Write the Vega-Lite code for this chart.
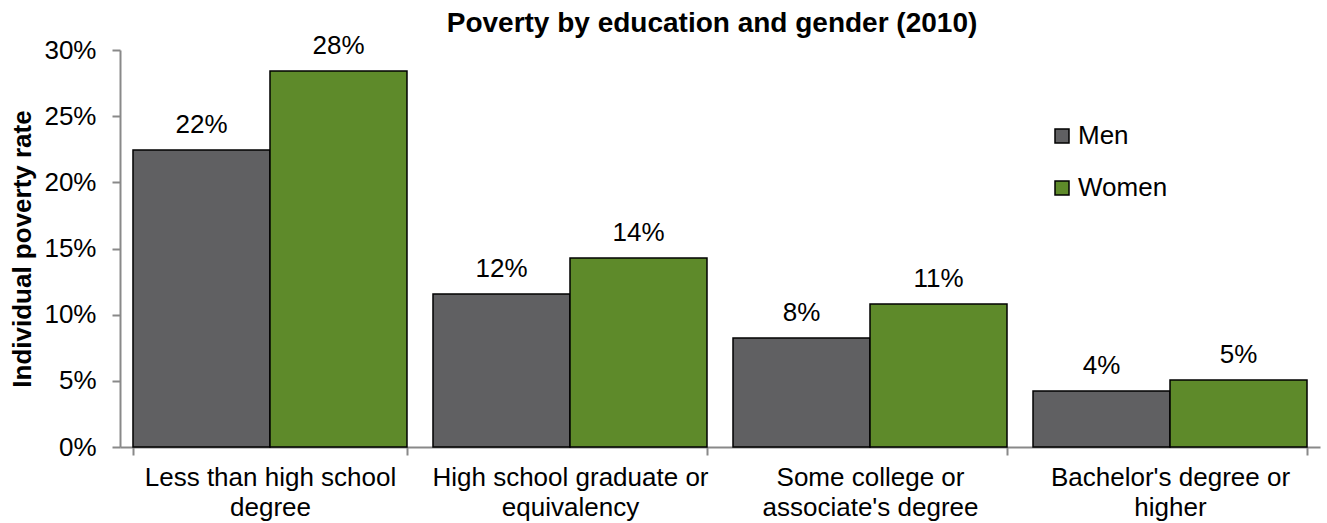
{
  "$schema": "https://vega.github.io/schema/vega-lite/v6.json",
  "width": 1200,
  "height": 397,
  "autosize": {"type": "none"},
  "padding": {"left": 120, "top": 50, "right": 7, "bottom": 76},
  "background": "white",
  "config": {
    "view": {"stroke": null},
    "font": "Liberation Sans",
    "axis": {"grid": false}
  },
  "title": {
    "text": "Poverty by education and gender (2010)",
    "font": "Liberation Sans",
    "fontSize": 28,
    "fontWeight": "bold",
    "color": "black",
    "anchor": "middle",
    "frame": "group",
    "offset": -5,
    "dx": -8
  },
  "data": {
    "values": [
      {"education": "Less than high school degree", "gender": "Men", "rate": 0.2244},
      {"education": "Less than high school degree", "gender": "Women", "rate": 0.2841},
      {"education": "High school graduate or equivalency", "gender": "Men", "rate": 0.1156},
      {"education": "High school graduate or equivalency", "gender": "Women", "rate": 0.1428},
      {"education": "Some college or associate's degree", "gender": "Men", "rate": 0.0824},
      {"education": "Some college or associate's degree", "gender": "Women", "rate": 0.108},
      {"education": "Bachelor's degree or higher", "gender": "Men", "rate": 0.0423},
      {"education": "Bachelor's degree or higher", "gender": "Women", "rate": 0.0506}
    ]
  },
  "encoding": {
    "x": {
      "field": "education",
      "type": "nominal",
      "sort": null,
      "scale": {"paddingInner": 0.0867, "paddingOuter": 0.0433},
      "axis": {
        "title": null,
        "labelAngle": 0,
        "labelFontSize": 26,
        "labelColor": "black",
        "labelLineHeight": 30,
        "labelPadding": 9,
        "labelLimit": 0,
        "labelOverlap": false,
        "labelExpr": "datum.label == 'Less than high school degree' ? ['Less than high school', 'degree'] : datum.label == 'High school graduate or equivalency' ? ['High school graduate or', 'equivalency'] : datum.label == \"Some college or associate's degree\" ? ['Some college or', \"associate's degree\"] : datum.label == \"Bachelor's degree or higher\" ? [\"Bachelor's degree or\", 'higher'] : ''",
        "domainColor": "#898989",
        "domainWidth": 2,
        "tickColor": "#898989",
        "tickWidth": 2,
        "tickSize": 8,
        "tickBand": "extent"
      }
    },
    "xOffset": {"field": "gender", "type": "nominal", "scale": {"paddingInner": 0}},
    "y": {
      "field": "rate",
      "type": "quantitative",
      "scale": {"domain": [0, 0.3], "nice": false},
      "axis": {
        "format": ".0%",
        "values": [0, 0.05, 0.1, 0.15, 0.2, 0.25, 0.3],
        "labelFontSize": 26,
        "labelColor": "black",
        "labelPadding": 16,
        "tickSize": 8,
        "tickColor": "#898989",
        "tickWidth": 2,
        "domainColor": "#898989",
        "domainWidth": 2,
        "title": "Individual poverty rate",
        "titleFontSize": 26,
        "titleFontWeight": "bold",
        "titleColor": "black",
        "titleAngle": -90,
        "titleX": -98,
        "titleY": 198.5,
        "titleAlign": "center",
        "titleBaseline": "middle"
      }
    }
  },
  "layer": [
    {
      "mark": {"type": "bar", "stroke": "black", "strokeWidth": 1.5},
      "encoding": {
        "color": {
          "field": "gender",
          "type": "nominal",
          "scale": {"domain": ["Men", "Women"], "range": ["#606062", "#5E8A2A"]},
          "legend": {
            "title": null,
            "orient": "none",
            "legendX": 929,
            "legendY": 73,
            "symbolType": "square",
            "symbolSize": 196,
            "symbolStrokeColor": "black",
            "symbolStrokeWidth": 1.5,
            "symbolOpacity": 1,
            "labelFontSize": 26,
            "labelColor": "black",
            "labelOffset": 3,
            "rowPadding": 26
          }
        }
      }
    },
    {
      "mark": {"type": "text", "fontSize": 26, "color": "black", "baseline": "alphabetic", "dy": -17},
      "encoding": {
        "text": {"field": "rate", "type": "quantitative", "format": ".0%"}
      }
    }
  ]
}
